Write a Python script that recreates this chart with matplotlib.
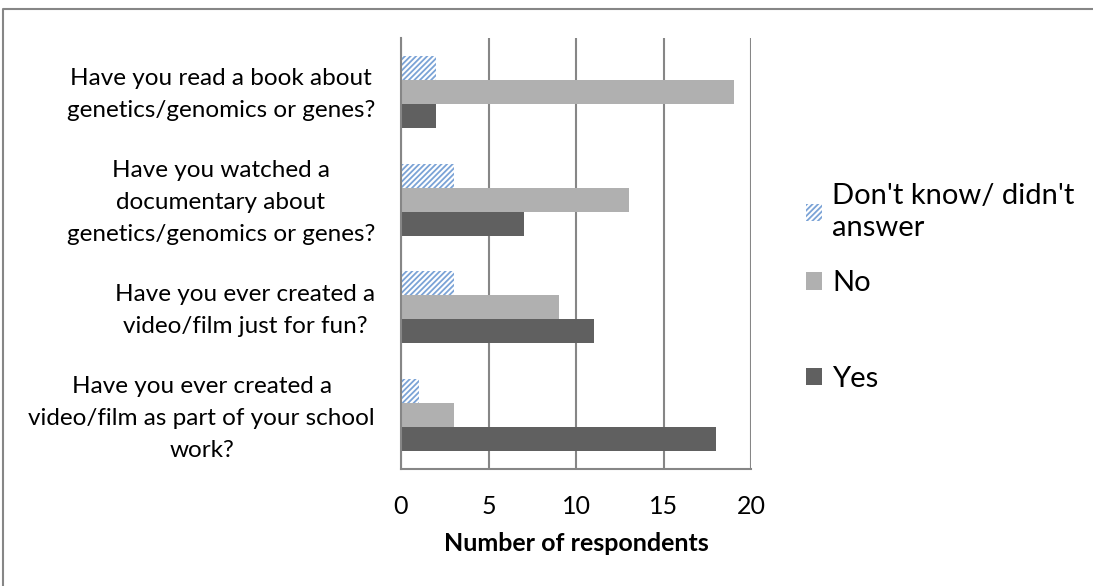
import numpy as np
import matplotlib
matplotlib.use("Agg")
from matplotlib import pyplot as plt
from matplotlib.lines import Line2D
import matplotlib.transforms as mtransforms

# Survey answers, listed bottom-to-top as drawn on the y axis
questions = [
    "Have you ever created a\nvideo/film as part of your school\nwork?",
    "Have you ever created a\nvideo/film just for fun?",
    "Have you watched a\ndocumentary about\ngenetics/genomics or genes?",
    "Have you read a book about\ngenetics/genomics or genes?",
]
yes_counts = [18, 11, 7, 2]
no_counts = [3, 9, 13, 19]
dont_know_counts = [1, 3, 3, 2]
x_ticks = [0, 5, 10, 15, 20]

GRID = "#868686"
plt.rcParams["font.family"] = ["Lato", "DejaVu Sans"]
plt.rcParams["hatch.linewidth"] = 1.3

fig = plt.figure(figsize=(10.93, 5.86), dpi=100)
ax = fig.add_axes([401 / 1093, 1 - 469 / 586, 350 / 1093, 431 / 586])

y = np.arange(len(questions))
h = 0.222
b_yes = ax.barh(y - h, yes_counts, height=h, color="#606060", label="Yes")
b_no = ax.barh(y, no_counts, height=h, color="#b0b0b0", label="No")
b_dk = ax.barh(y + h, dont_know_counts, height=h, facecolor="white",
               edgecolor="#7ba3d6", linewidth=0, hatch="//////",
               label="Don't know/ didn't\nanswer")

ax.set_xlim(0, 20)
ax.set_ylim(-0.5, 3.5)
ax.set_xticks(x_ticks)
ax.set_xticklabels([str(t) for t in x_ticks], fontsize=18)
ax.set_yticks(y)
ax.set_yticklabels([])

# Category labels as text so the wrapped lines get wider spacing
label_tf = mtransforms.blended_transform_factory(ax.transAxes, ax.transData) + \
    mtransforms.ScaledTranslation(-26 / 100, -3 / 100, fig.dpi_scale_trans)
for yi, q in zip(y, questions):
    ax.text(0, yi, q, transform=label_tf, ha="right", va="center",
            multialignment="center", fontsize=17.5, linespacing=1.65)

ax.tick_params(axis="both", length=0)
ax.tick_params(axis="x", pad=19)
ax.xaxis.grid(True, color=GRID, linewidth=1.5)
ax.set_axisbelow(True)
for side in ["top", "right"]:
    ax.spines[side].set_visible(False)
for side in ["left", "bottom"]:
    ax.spines[side].set_color(GRID)
    ax.spines[side].set_linewidth(1.5)

ax.set_xlabel("Number of respondents", fontsize=18, fontweight="bold",
              labelpad=10)

# Legend split in two so "Yes" sits lower, like the wrapped layout
leg_style = dict(bbox_transform=fig.transFigure, frameon=False, fontsize=21,
                 handlelength=0.55, handleheight=0.55, handletextpad=0.35,
                 borderaxespad=0, borderpad=0)
leg_top = ax.legend(handles=[b_dk, b_no], loc="upper left",
                    bbox_to_anchor=(806 / 1093, 1 - 183 / 586),
                    labelspacing=1.0, **leg_style)
for t in leg_top.get_texts():
    t.set_linespacing(1.3)
ax.add_artist(leg_top)
ax.legend(handles=[b_yes], loc="center left",
          bbox_to_anchor=(806 / 1093, 1 - 379 / 586), **leg_style)

# Outer chart frame (top and left edges visible)
fig.add_artist(Line2D([3 / 1093, 3 / 1093, 1.0], [0.0, 1 - 9 / 586, 1 - 9 / 586],
                      transform=fig.transFigure, color=GRID, linewidth=1.5))

fig.savefig("out.png", dpi=100)
